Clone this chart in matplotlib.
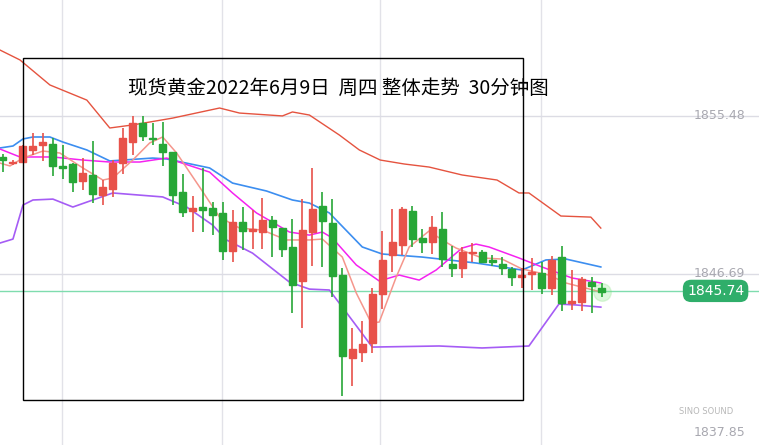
import matplotlib
matplotlib.use("Agg")
import matplotlib.pyplot as plt
from matplotlib.patches import Rectangle

plt.rcParams['font.family'] = ['Noto Sans CJK SC', 'DejaVu Sans']

# candles: open, high, low, close (30 min)
opens = [1853.18, 1852.84, 1852.90, 1853.57, 1853.84, 1853.90, 1852.68, 1852.79, 1851.84, 1852.18,
         1851.07, 1851.40, 1852.84, 1854.01, 1855.07, 1854.23, 1853.90, 1853.46, 1851.23, 1850.18,
         1850.40, 1850.34, 1850.07, 1847.96, 1849.57, 1849.07, 1849.01, 1849.68, 1849.23, 1848.18,
         1846.29, 1849.01, 1850.46, 1849.51, 1846.62, 1842.01, 1842.34, 1842.84, 1845.57, 1847.73,
         1848.29, 1850.18, 1848.68, 1848.46, 1849.18, 1847.23, 1847.01, 1847.84, 1847.90, 1847.46,
         1847.23, 1846.96, 1846.51, 1846.68, 1846.73, 1845.90, 1847.62, 1845.07, 1845.12, 1846.23,
         1845.90]
highs = [1853.34, 1853.01, 1853.85, 1854.51, 1854.51, 1854.23, 1853.84, 1852.84, 1853.12, 1854.07,
         1851.90, 1853.01, 1854.79, 1855.46, 1855.46, 1855.07, 1855.12, 1853.46, 1852.23, 1851.01,
         1852.57, 1850.68, 1850.68, 1850.23, 1850.40, 1850.23, 1850.90, 1849.90, 1849.23, 1849.73,
         1850.84, 1852.57, 1851.23, 1850.84, 1847.01, 1843.68, 1844.07, 1845.90, 1849.07, 1850.29,
         1850.40, 1850.46, 1849.18, 1849.90, 1850.12, 1848.23, 1848.18, 1848.40, 1848.01, 1847.73,
         1847.62, 1847.07, 1847.01, 1847.57, 1847.34, 1847.68, 1848.23, 1846.90, 1846.51, 1846.51,
         1846.18]
lows = [1852.34, 1852.73, 1852.84, 1853.29, 1852.96, 1852.12, 1851.96, 1851.23, 1851.34, 1850.62,
        1850.51, 1850.96, 1852.23, 1853.29, 1854.07, 1853.84, 1852.68, 1850.51, 1849.84, 1849.01,
        1849.01, 1848.84, 1847.46, 1847.34, 1848.01, 1848.07, 1848.07, 1847.62, 1847.62, 1844.51,
        1843.68, 1847.12, 1847.07, 1845.40, 1839.90, 1840.46, 1841.79, 1842.29, 1844.73, 1846.79,
        1847.73, 1848.18, 1847.84, 1847.79, 1847.07, 1846.51, 1846.46, 1847.34, 1847.29, 1847.12,
        1846.62, 1846.01, 1845.90, 1845.79, 1845.57, 1845.51, 1844.62, 1844.68, 1844.62, 1844.51,
        1845.40]
closes = [1853.01, 1852.90, 1853.79, 1853.79, 1854.01, 1852.68, 1852.57, 1851.79, 1852.29, 1851.12,
          1851.51, 1852.84, 1854.23, 1855.07, 1854.34, 1854.17, 1853.46, 1851.07, 1850.12, 1850.34,
          1850.23, 1849.96, 1847.96, 1849.57, 1849.07, 1849.18, 1849.68, 1849.29, 1848.07, 1846.07,
          1849.12, 1850.29, 1849.62, 1846.57, 1842.12, 1842.51, 1842.79, 1845.57, 1847.46, 1848.46,
          1850.29, 1848.62, 1848.46, 1849.29, 1847.51, 1847.01, 1847.90, 1847.90, 1847.34, 1847.34,
          1847.01, 1846.51, 1846.62, 1846.79, 1845.90, 1847.46, 1845.07, 1845.18, 1846.40, 1846.01,
          1845.68]

# indicator lines, sampled (bar index, price)
upper_x = [-0.3, 1.7, 4.7, 8.4, 10.7, 13.0, 17.0, 21.7, 23.7, 28.0, 29.0, 30.7, 33.7, 35.7, 37.8,
           40.2, 42.7, 46.0, 49.5, 51.7, 52.7, 55.9, 58.9, 59.9]
upper_y = [1859.12, 1858.57, 1857.18, 1856.34, 1854.79, 1854.96, 1855.34, 1855.90, 1855.62, 1855.46,
           1855.68, 1855.51, 1854.40, 1853.57, 1853.01, 1852.79, 1852.62, 1852.18, 1851.90, 1851.18,
           1851.18, 1849.90, 1849.84, 1849.23]
mid_x = [-0.3, 1.0, 2.0, 3.0, 4.7, 6.0, 8.4, 10.7, 15.0, 16.4, 20.7, 23.0, 26.4, 29.0, 30.7, 32.7,
         36.0, 38.0, 42.0, 47.4, 52.0, 54.4, 56.4, 59.9]
mid_y = [1853.68, 1853.79, 1854.18, 1854.29, 1854.29, 1854.01, 1853.57, 1852.96, 1853.12, 1853.07,
         1852.57, 1851.73, 1851.29, 1850.79, 1850.62, 1850.07, 1848.18, 1847.79, 1847.62, 1847.29,
         1846.90, 1847.46, 1847.51, 1847.07]
lower_x = [-0.3, 1.0, 2.0, 3.0, 5.0, 7.0, 11.0, 16.0, 18.4, 21.0, 22.4, 25.0, 28.7, 30.7, 32.7, 34.0,
           37.0, 43.7, 48.0, 52.7, 55.7, 57.4, 59.9]
lower_y = [1848.40, 1848.62, 1850.51, 1850.79, 1850.84, 1850.40, 1851.18, 1850.96, 1850.40, 1849.40,
           1848.57, 1847.84, 1846.23, 1845.84, 1845.79, 1844.84, 1842.62, 1842.68, 1842.57, 1842.68,
           1845.01, 1844.96, 1844.84]
mag_x = [-0.3, 1.7, 5.0, 8.0, 10.7, 13.7, 16.4, 20.7, 23.0, 25.4, 28.7, 30.7, 32.0, 33.0, 35.4, 37.7,
         39.7, 41.7, 43.4, 46.0, 47.4, 48.7, 51.7, 54.0, 57.0, 59.9]
mag_y = [1853.62, 1853.18, 1853.18, 1853.01, 1852.90, 1852.90, 1853.12, 1852.34, 1851.18, 1850.07,
         1849.01, 1848.84, 1849.01, 1848.68, 1847.18, 1846.29, 1846.62, 1846.34, 1846.90, 1848.12,
         1848.34, 1848.18, 1847.57, 1847.07, 1846.46, 1846.18]
ma_x = [-0.3, 0.7, 2.0, 4.0, 5.7, 8.0, 10.0, 11.0, 13.0, 14.7, 16.0, 17.4, 19.7, 21.7, 23.7, 26.0,
        28.4, 30.7, 32.0, 34.0, 35.4, 36.9, 37.7, 39.4, 40.7, 42.7, 44.0, 45.4, 48.0, 50.0, 52.0,
        54.7, 56.4, 59.9]
ma_y = [1852.84, 1852.68, 1853.12, 1853.51, 1853.40, 1852.57, 1851.90, 1852.01, 1853.01, 1853.96,
        1854.29, 1853.40, 1851.51, 1849.84, 1849.23, 1849.12, 1848.57, 1848.57, 1848.62, 1847.62,
        1845.62, 1843.96, 1844.01, 1846.51, 1848.18, 1849.07, 1848.57, 1848.12, 1847.57, 1847.51,
        1846.96, 1846.62, 1846.18, 1845.68]

axis_prices = [1855.48, 1846.69, 1837.85]
last_price = 1845.74
title = "现货黄金2022年6月9日  周四 整体走势  30分钟图"

RED = "#e8524a"
GREEN = "#27a737"

fig = plt.figure(figsize=(7.59, 4.45), dpi=100)
ax = fig.add_axes([0, 0, 1, 1])
ax.set_xlim(-0.3, 75.75)
ax.set_ylim(1837.18, 1861.9)
ax.axis("off")

# grid
for gx in [5.9, 21.9, 37.8, 53.9]:
    ax.axvline(gx, color="#e2e2e8", lw=1, zorder=0)
for p in axis_prices[:2]:
    ax.axhline(p, color="#dcdce4", lw=1, zorder=0)

# indicator lines
ax.plot(upper_x, upper_y, color="#e5533f", lw=1, zorder=2)
ax.plot(mid_x, mid_y, color="#3c8ef0", lw=1.2, zorder=2)
ax.plot(lower_x, lower_y, color="#a55cf5", lw=1.2, zorder=2)
ax.plot(mag_x, mag_y, color="#f522f0", lw=1.1, zorder=2)
ax.plot(ma_x, ma_y, color="#f5968c", lw=1.1, zorder=2)

# candles
for i in range(len(opens)):
    c = RED if closes[i] >= opens[i] else GREEN
    ax.vlines(i, lows[i], highs[i], color=c, lw=1.2, zorder=3)
    lo, hi = min(opens[i], closes[i]), max(opens[i], closes[i])
    ax.add_patch(Rectangle((i - 0.35, lo), 0.7, max(hi - lo, 0.06), color=c, zorder=4))

# last price line and label
ax.axhline(last_price, color="#7fdcae", lw=1, zorder=1)
ax.scatter([len(opens) - 1], [closes[-1]], s=160, color="#7ee07a", alpha=0.25, zorder=2)
ax.text(71.4, last_price, f"{last_price:.2f}", color="white", fontsize=10, ha="center", va="center",
        family=["DejaVu Sans"], zorder=6,
        bbox=dict(boxstyle="round,pad=0.3,rounding_size=0.6", fc="#2fae6a", ec="none"))

for p in axis_prices:
    ax.text(71.8, p, f"{p:.2f}", color="#a8a8b0", fontsize=9, ha="center", va="center",
            family=["DejaVu Sans"], zorder=5)

# boxed title area
ax.add_patch(Rectangle((0.0303, 0.101), 0.6588, 0.769, transform=ax.transAxes,
                       fill=False, ec="black", lw=1, zorder=5))
ax.text(0.446, 0.802, title, transform=ax.transAxes, fontsize=14, ha="center", va="center",
        color="black", zorder=6)

ax.text(0.93, 0.075, "SINO SOUND", transform=ax.transAxes, fontsize=6, ha="center", va="center",
        color="#b8b8b8", family=["DejaVu Sans"], zorder=6)

fig.savefig("out.png", dpi=100)
